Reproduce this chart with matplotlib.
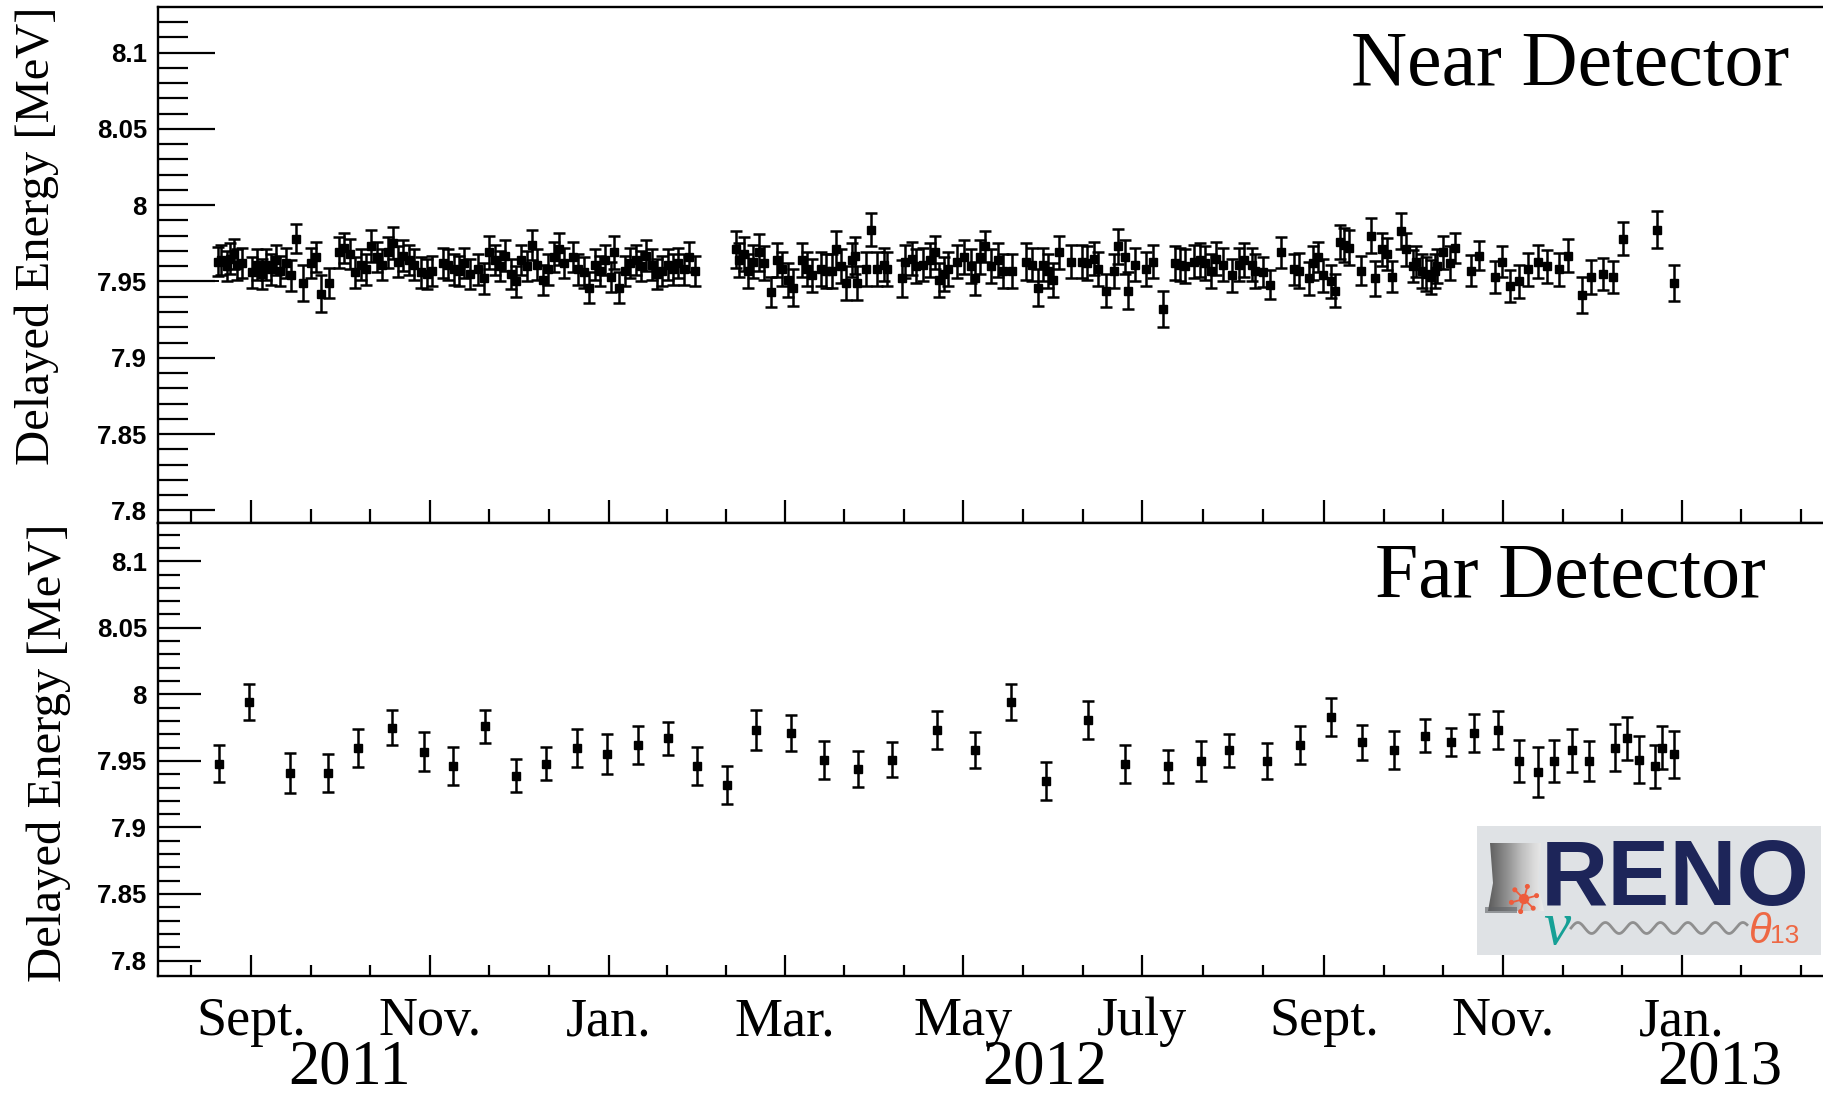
import numpy as np
import matplotlib
matplotlib.use("Agg")
import matplotlib.pyplot as plt
from matplotlib.patches import Polygon, Circle, Rectangle
from datetime import date

# ---------------------------------------------------------------------------
# Data: time in days since 2011-09-01, delayed-signal energy peak in MeV
# ---------------------------------------------------------------------------
BASE = date(2011, 9, 1)

near_days = [
    -11.3, -10.1, -8.3, -7.0, -5.8, -4.6, -3.0, 0.3, 2.1, 3.9,
    5.1, 7.0, 8.4, 10.0, 11.8, 13.7, 15.5, 17.9, 20.4, 22.2,
    24.0, 26.5, 30.1, 31.9, 33.8, 35.6, 37.4, 39.2, 41.1, 42.9,
    44.7, 46.6, 48.4, 50.2, 52.0, 53.9, 55.7, 58.1, 59.9, 61.8,
    65.4, 67.3, 69.1, 70.9, 72.7, 74.6, 77.6, 79.4, 81.3, 83.1,
    84.9, 86.7, 88.6, 90.4, 92.2, 94.0, 95.9, 97.7, 99.5, 101.4,
    103.2, 105.0, 106.8, 109.9, 111.7, 113.5, 115.4, 117.2, 119.0, 120.9,
    122.7, 123.9, 125.7, 127.5, 129.4, 131.2, 133.0, 134.9, 136.7, 138.5,
    140.3, 142.2, 144.0, 145.8, 147.6, 149.5, 151.3,
    165.3, 166.5, 168.3, 169.5, 171.4, 173.2, 175.0, 177.5, 179.3, 181.1,
    183.0, 185.0, 187.8, 189.6, 191.5, 194.5, 196.3, 198.2, 199.4, 201.2,
    203.0, 204.9, 206.1, 206.7, 209.7, 211.6, 213.4, 215.8, 217.0, 221.9,
    223.1, 225.6, 226.8, 229.2, 231.7, 233.2, 234.7, 236.5, 237.7, 240.8,
    243.2, 245.7, 246.9, 248.7, 250.5, 252.4, 254.8, 256.6, 259.7, 264.5,
    266.4, 268.6, 270.0, 271.9, 273.7, 275.5, 279.8, 283.4, 285.3, 287.7,
    288.9, 291.7, 294.4, 295.8, 298.0, 299.0, 301.5, 305.4, 307.8, 311.1,
    315.1, 316.9, 318.7, 321.8, 323.6, 325.4, 327.3, 329.1, 331.5, 334.6,
    337.0, 338.8, 341.3,
    342.6, 345.1, 347.6, 351.3, 355.9, 357.6, 361.0, 362.2, 363.8, 365.7,
    368.2, 369.7, 371.3, 372.9, 374.4, 378.5, 381.9, 383.4, 385.9, 387.3,
    389.1, 392.1, 393.8, 396.3, 397.5, 399.4, 400.9, 402.5, 403.7, 404.6,
    406.6, 409.1, 410.6, 416.2, 418.7, 424.3, 426.6, 429.3, 432.5, 435.6,
    438.8, 442.1, 446.2, 449.3, 453.9, 457.2, 461.2, 464.5, 467.8, 479.6,
    485.3,
]

near_energy = [
    7.963, 7.964, 7.960, 7.965, 7.968, 7.961, 7.962, 7.956, 7.961, 7.955,
    7.961, 7.958, 7.964, 7.957, 7.962, 7.954, 7.978, 7.949, 7.962, 7.966,
    7.942, 7.949, 7.969, 7.972, 7.968, 7.956, 7.961, 7.958, 7.973, 7.966,
    7.961, 7.969, 7.975, 7.963, 7.967, 7.964, 7.961, 7.956, 7.955, 7.957,
    7.962, 7.961, 7.958, 7.957, 7.962, 7.955, 7.958, 7.952, 7.969, 7.964,
    7.960, 7.967, 7.955, 7.950, 7.964, 7.960, 7.974, 7.961, 7.951, 7.958,
    7.966, 7.971, 7.962, 7.966, 7.958, 7.956, 7.946, 7.961, 7.957, 7.964,
    7.953, 7.969, 7.946, 7.957, 7.962, 7.964, 7.960, 7.967, 7.961, 7.955,
    7.957, 7.961, 7.958, 7.962, 7.958, 7.966, 7.957,
    7.971, 7.964, 7.968, 7.957, 7.963, 7.969, 7.962, 7.943, 7.964, 7.958,
    7.951, 7.946, 7.964, 7.958, 7.954, 7.958, 7.957, 7.957, 7.971, 7.960,
    7.949, 7.964, 7.967, 7.949, 7.958, 7.984, 7.958, 7.961, 7.958, 7.952,
    7.963, 7.965, 7.960, 7.961, 7.964, 7.969, 7.951, 7.955, 7.958, 7.963,
    7.966, 7.960, 7.952, 7.966, 7.973, 7.960, 7.964, 7.957, 7.957, 7.963,
    7.961, 7.946, 7.961, 7.957, 7.951, 7.969, 7.963, 7.963, 7.962, 7.965,
    7.958, 7.944, 7.957, 7.973, 7.966, 7.944, 7.961, 7.958, 7.963, 7.932,
    7.962, 7.961, 7.960, 7.963, 7.964, 7.962, 7.957, 7.965, 7.961, 7.954,
    7.961, 7.964, 7.961,
    7.957, 7.956, 7.948, 7.969, 7.958, 7.957, 7.952, 7.962, 7.966, 7.954,
    7.950, 7.944, 7.976, 7.974, 7.972, 7.957, 7.980, 7.952, 7.971, 7.968,
    7.953, 7.983, 7.971, 7.960, 7.963, 7.957, 7.955, 7.953, 7.957, 7.960,
    7.969, 7.962, 7.972, 7.957, 7.967, 7.953, 7.963, 7.947, 7.950, 7.958,
    7.963, 7.960, 7.958, 7.967, 7.941, 7.953, 7.955, 7.953, 7.978, 7.984,
    7.949,
]

near_error = [
    0.0095, 0.0100, 0.0100, 0.0100, 0.0100, 0.0100, 0.0100, 0.0100, 0.0100, 0.0100,
    0.0100, 0.0100, 0.0100, 0.0100, 0.0100, 0.0100, 0.0095, 0.0120, 0.0100, 0.0100,
    0.0120, 0.0100, 0.0100, 0.0100, 0.0100, 0.0100, 0.0100, 0.0100, 0.0105, 0.0100,
    0.0100, 0.0100, 0.0105, 0.0100, 0.0100, 0.0100, 0.0100, 0.0100, 0.0100, 0.0100,
    0.0100, 0.0100, 0.0100, 0.0100, 0.0100, 0.0100, 0.0100, 0.0100, 0.0105, 0.0100,
    0.0100, 0.0100, 0.0100, 0.0100, 0.0100, 0.0100, 0.0100, 0.0100, 0.0100, 0.0100,
    0.0100, 0.0105, 0.0100, 0.0100, 0.0100, 0.0100, 0.0100, 0.0100, 0.0100, 0.0100,
    0.0100, 0.0105, 0.0100, 0.0100, 0.0100, 0.0100, 0.0100, 0.0100, 0.0100, 0.0100,
    0.0100, 0.0100, 0.0100, 0.0100, 0.0100, 0.0100, 0.0100,
    0.0120, 0.0110, 0.0110, 0.0110, 0.0110, 0.0120, 0.0110, 0.0100, 0.0110, 0.0110,
    0.0110, 0.0120, 0.0110, 0.0110, 0.0110, 0.0110, 0.0110, 0.0110, 0.0120, 0.0110,
    0.0110, 0.0110, 0.0120, 0.0110, 0.0110, 0.0107, 0.0110, 0.0110, 0.0110, 0.0120,
    0.0110, 0.0110, 0.0110, 0.0110, 0.0110, 0.0105, 0.0110, 0.0110, 0.0110, 0.0110,
    0.0110, 0.0110, 0.0110, 0.0110, 0.0100, 0.0110, 0.0110, 0.0110, 0.0110, 0.0120,
    0.0110, 0.0120, 0.0110, 0.0110, 0.0110, 0.0105, 0.0110, 0.0110, 0.0110, 0.0110,
    0.0110, 0.0110, 0.0110, 0.0115, 0.0110, 0.0120, 0.0110, 0.0110, 0.0110, 0.0117,
    0.0110, 0.0110, 0.0110, 0.0110, 0.0110, 0.0110, 0.0110, 0.0110, 0.0110, 0.0110,
    0.0110, 0.0110, 0.0110,
    0.0110, 0.0098, 0.0094, 0.0102, 0.0101, 0.0114, 0.0109, 0.0110, 0.0100, 0.0110,
    0.0110, 0.0110, 0.0110, 0.0110, 0.0115, 0.0094, 0.0115, 0.0117, 0.0110, 0.0103,
    0.0102, 0.0116, 0.0110, 0.0105, 0.0103, 0.0110, 0.0110, 0.0110, 0.0110, 0.0110,
    0.0110, 0.0110, 0.0101, 0.0102, 0.0098, 0.0107, 0.0103, 0.0107, 0.0109, 0.0108,
    0.0109, 0.0109, 0.0108, 0.0109, 0.0117, 0.0109, 0.0107, 0.0107, 0.0108, 0.0122,
    0.0117,
]

far_days = [
    -11.0, -0.6, 13.4, 26.2, 36.4, 48.0, 58.9, 68.8, 79.9, 90.3,
    100.7, 111.2, 121.4, 132.0, 142.4, 152.1, 162.5, 172.3, 184.2, 195.5,
    206.9, 218.8, 233.9, 246.9, 259.1, 271.0, 285.5, 298.2, 312.7, 323.9,
    333.6, 346.7, 357.7, 368.3, 378.8, 389.8, 400.3, 409.2, 417.1, 425.2,
    432.4, 439.0, 444.5, 450.7, 456.4, 465.4, 469.3, 473.3, 479.0, 481.4,
    485.4,
]

far_energy = [
    7.948, 7.994, 7.941, 7.941, 7.960, 7.975, 7.957, 7.946, 7.976, 7.939,
    7.948, 7.960, 7.955, 7.962, 7.967, 7.946, 7.932, 7.973, 7.971, 7.951,
    7.944, 7.951, 7.973, 7.958, 7.994, 7.935, 7.981, 7.948, 7.946, 7.950,
    7.958, 7.950, 7.962, 7.983, 7.964, 7.958, 7.969, 7.964, 7.971, 7.973,
    7.950, 7.942, 7.950, 7.958, 7.950, 7.960, 7.967, 7.951, 7.946, 7.960,
    7.955,
]

far_error = [
    0.0141, 0.0135, 0.0152, 0.0141, 0.0143, 0.0134, 0.0144, 0.0143, 0.0125, 0.0124,
    0.0125, 0.0143, 0.0152, 0.0143, 0.0125, 0.0143, 0.0143, 0.0152, 0.0134, 0.0143,
    0.0134, 0.0134, 0.0143, 0.0134, 0.0135, 0.0144, 0.0143, 0.0143, 0.0125, 0.0152,
    0.0125, 0.0134, 0.0143, 0.0143, 0.0133, 0.0143, 0.0124, 0.0106, 0.0143, 0.0143,
    0.0160, 0.0188, 0.0160, 0.0160, 0.0152, 0.0179, 0.0160, 0.0178, 0.0160, 0.0162,
    0.0178,
]

near_baseline = 7.95

month_dates = [date(2011, 9, 1), date(2011, 11, 1), date(2012, 1, 1), date(2012, 3, 1),
               date(2012, 5, 1), date(2012, 7, 1), date(2012, 9, 1), date(2012, 11, 1),
               date(2013, 1, 1)]
month_names = ["Sept.", "Nov.", "Jan.", "Mar.", "May", "July", "Sept.", "Nov.", "Jan."]
year_names = ["2011", "2012", "2013"]

# ---------------------------------------------------------------------------
# Figure layout (pixel boxes converted to figure fractions)
# ---------------------------------------------------------------------------
W, H = 1824, 1096
fig = plt.figure(figsize=(W / 100, H / 100), dpi=100)
fig.patch.set_facecolor("white")


def fig_rect(x0, y0, x1, y1):
    return [x0 / W, 1 - y1 / H, (x1 - x0) / W, (y1 - y0) / H]


ax_near = fig.add_axes(fig_rect(158, 7, 1826, 523))
ax_far = fig.add_axes(fig_rect(158, 523, 1826, 976))

px_per_day = 2.932
x_left = -31.7
x_right = x_left + (1826 - 158) / px_per_day

month_days = [(d - BASE).days for d in month_dates]
minor_days = []
for a, b in zip(month_days[:-1], month_days[1:]):
    minor_days += [a + (b - a) / 3, a + 2 * (b - a) / 3]
step = (month_days[1] - month_days[0]) / 3
minor_days = [month_days[0] - step] + minor_days + [month_days[-1] + step, month_days[-1] + 2 * step]

err_style = dict(fmt="s", ms=5.2, mfc="black", mec="black", ecolor="black",
                 elinewidth=1.8, capsize=4.6, capthick=1.8, color="black", zorder=3)

tick_font = {"family": "Liberation Sans", "weight": "bold", "size": 18.5}

for ax, ylim, ymaj, ymin, xmaj, xmin in [
    (ax_near, (7.7917, 8.1299), 41, 21.5, 16.5, 10),
    (ax_far, (7.7884, 8.1287), 31, 16, 15, 8),
]:
    ax.set_xlim(x_left, x_right)
    ax.set_ylim(*ylim)
    ax.set_yticks(np.round(np.arange(7.80, 8.1001, 0.05), 2))
    ax.set_yticks(np.round(np.arange(7.80, 8.1201, 0.01), 2), minor=True)
    ax.set_yticklabels(["7.8", "7.85", "7.9", "7.95", "8", "8.05", "8.1"], fontdict=tick_font)
    ax.set_xticks(month_days)
    ax.set_xticks(minor_days, minor=True)
    ax.tick_params(axis="y", which="major", direction="in", length=ymaj, width=1.6, pad=8)
    ax.tick_params(axis="y", which="minor", direction="in", length=ymin, width=1.6)
    ax.tick_params(axis="x", which="major", direction="in", length=xmaj, width=1.6)
    ax.tick_params(axis="x", which="minor", direction="in", length=xmin, width=1.6)
    ax.spines["right"].set_visible(False)
    for s in ("left", "top", "bottom"):
        ax.spines[s].set_linewidth(1.7)

ax_near.tick_params(axis="x", labelbottom=False)
ax_far.set_xticklabels(month_names, fontfamily="Liberation Serif", fontsize=39)
ax_far.tick_params(axis="x", which="major", pad=15)

# Near detector
ax_near.plot([x_left, near_days[0]], [near_baseline, near_baseline], color="black", lw=1.4, zorder=2)
ax_near.errorbar(near_days, near_energy, yerr=near_error, **err_style)
# Far detector
ax_far.errorbar(far_days, far_energy, yerr=far_error, **err_style)

serif = "Liberation Serif"
fig.text(1789 / W, 1 - 85 / H, "Near Detector", ha="right", va="baseline", family=serif, fontsize=56)
fig.text(1766 / W, 1 - 597 / H, "Far Detector", ha="right", va="baseline", family=serif, fontsize=56)
fig.text(37 / W, 1 - 236 / H, "Delayed Energy [MeV]", rotation=90, ha="center", va="center",
         family=serif, fontsize=35)
fig.text(49 / W, 1 - 753 / H, "Delayed Energy [MeV]", rotation=90, ha="center", va="center",
         family=serif, fontsize=35)

for name, xc in zip(year_names, [350, 1045, 1720]):
    fig.text(xc / W, 1 - 1083 / H, name, ha="center", va="baseline", family=serif, fontsize=45)

# ---------------------------------------------------------------------------
# RENO logo badge
# ---------------------------------------------------------------------------
lg = fig.add_axes(fig_rect(1477, 826, 1821, 955))
lg.set_xlim(0, 344)
lg.set_ylim(0, 129)
lg.axis("off")
lg.add_patch(Rectangle((0, 0), 344, 129, facecolor="#dfe2e5", edgecolor="none", zorder=0))

tower = Polygon([(11, 44), (16, 72), (13, 112), (64, 112), (61, 72), (67, 44)],
                closed=True, facecolor="none", edgecolor="none")
lg.add_patch(tower)
grad = np.linspace(0, 1, 256).reshape(1, -1)
img = lg.imshow(grad, extent=(11, 67, 44, 112), cmap="Greys_r", vmin=-0.5, vmax=1.25,
                aspect="auto", zorder=1)
img.set_clip_path(tower)
lg.add_patch(Rectangle((8, 42), 32, 6, facecolor="#5f6266", edgecolor="none", alpha=0.6, zorder=1))

burst_c = (47, 56)
orange = "#ee5c3c"
for ang in np.deg2rad([15, 75, 135, 195, 255, 315]):
    ex, ey = burst_c[0] + 13 * np.cos(ang), burst_c[1] + 13 * np.sin(ang)
    lg.plot([burst_c[0], ex], [burst_c[1], ey], color=orange, lw=1.3, zorder=3)
    lg.add_patch(Circle((ex, ey), 1.8, color=orange, zorder=3))
lg.add_patch(Circle(burst_c, 4.5, color=orange, zorder=3))

lg.text(64, 50, "RENO", family="Liberation Sans", fontweight="bold", fontsize=67,
        color="#1d2559", va="baseline", ha="left", zorder=4)
lg.text(66, 11, "ν", family="Liberation Serif", style="italic", fontsize=44,
        color="#16a096", va="baseline", ha="left", zorder=4)
wx = np.linspace(94, 270, 400)
lg.plot(wx, 27 + 5.5 * np.sin(2 * np.pi * (wx - 94) / 27.5), color="#8f8f8f", lw=2, zorder=3)
lg.text(272, 12, "θ", family="Liberation Sans", style="italic", fontsize=30,
        color="#ee6844", va="baseline", ha="left", zorder=4)
lg.text(293, 12, "13", family="Liberation Sans", fontsize=19,
        color="#ee6844", va="baseline", ha="left", zorder=4)

fig.savefig("out.png", dpi=100)
